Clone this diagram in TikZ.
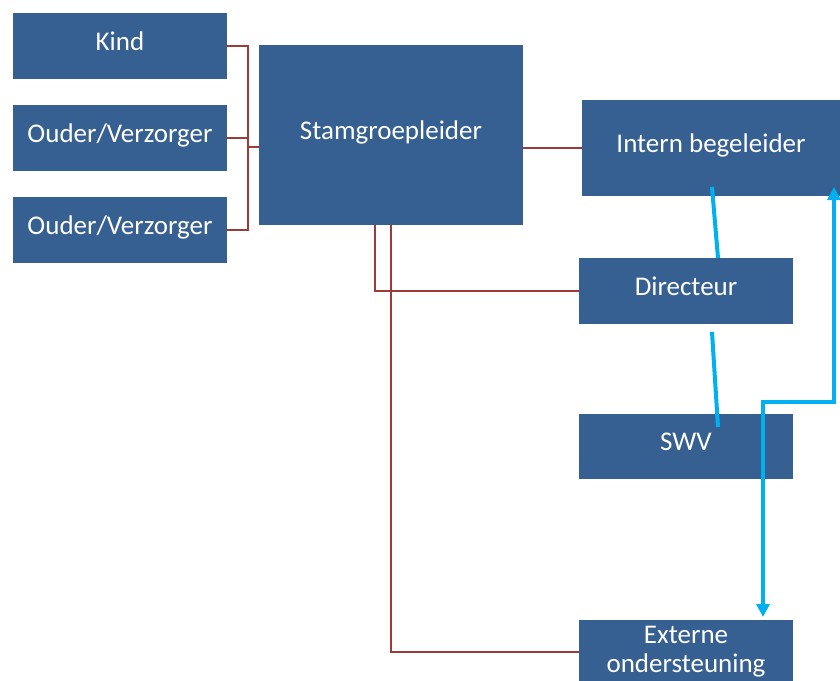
\documentclass[tikz,border=0pt]{standalone}
\usepackage{fontspec}
\setmainfont{Carlito}
\usetikzlibrary{arrows.meta}
\definecolor{boxblue}{RGB}{55,96,146}
\definecolor{linered}{RGB}{158,58,56}
\definecolor{arrowblue}{RGB}{0,176,240}
\begin{document}
\begin{tikzpicture}[x=1pt,y=-1pt,
  box/.style={fill=boxblue,draw=none,text=white,inner sep=0pt,align=center,
    font=\fontsize{27}{29}\selectfont,text height=0.85em,text depth=0.5pt},
  box2/.style={fill=boxblue,draw=none,text=white,inner sep=0pt,align=center,
    font=\fontsize{27}{29}\selectfont},
  redline/.style={draw=linered,line width=2.4pt},
  blueline/.style={draw=arrowblue,line width=4pt},
  bluearrow/.style={draw=arrowblue,line width=3.5pt,
    {Triangle[width=13pt,length=13pt]}-{Triangle[width=13pt,length=13pt]}}]
\useasboundingbox (0,0) rectangle (840,680);
% boxes
\node[box,minimum width=214pt,minimum height=66pt] (kind) at (120,46) {Kind};
\node[box,minimum width=214pt,minimum height=66pt] (ouder1) at (120,138) {Ouder/Verzorger};
\node[box,minimum width=214pt,minimum height=66pt] (ouder2) at (120,230) {Ouder/Verzorger};
\node[box,minimum width=264pt,minimum height=180pt] (stam) at (391,135) {Stamgroepleider};
\node[box,minimum width=258pt,minimum height=96pt] (intern) at (711,148) {Intern begeleider};
\node[box,minimum width=214pt,minimum height=66pt] (dir) at (686,291) {Directeur};
\node[box,minimum width=214pt,minimum height=65pt] (swv) at (686,446.5) {SWV};
\node[box2,minimum width=214pt,minimum height=64pt] (ext) at (686,652) {Externe\\ondersteuning};
% red connectors
\coordinate (busT) at (248,46);
\coordinate (busM) at (248,147);
\coordinate (busB) at (248,230);
\draw[redline] (kind.east) -- (busT) -- (busB) -- (ouder2.east);
\draw[redline] (ouder1.east) -- (ouder1.east -| busB);
\draw[redline] (busM) -- (stam.west |- busM);
\draw[redline] (stam.east |- intern.west) -- (intern.west);
\coordinate (sd) at (375,0);
\coordinate (se) at (391,0);
\draw[redline] (stam.south -| sd) |- (dir.west);
\draw[redline] (stam.south -| se) |- (ext.west);
% blue connectors
\coordinate (ibS) at (712,187);
\coordinate (dirN) at (718,258);
\coordinate (dirS) at (712,332);
\coordinate (swvN) at (718,427);
\draw[blueline] (ibS) -- (dirN);
\draw[blueline] (dirS) -- (swvN);
\coordinate (arrTop) at (834,187);
\coordinate (arrBot) at (763,617);
\coordinate (arrMid) at (834,402);
\draw[bluearrow] (arrTop) -- (arrMid) -| (arrBot);
\end{tikzpicture}
\end{document}
